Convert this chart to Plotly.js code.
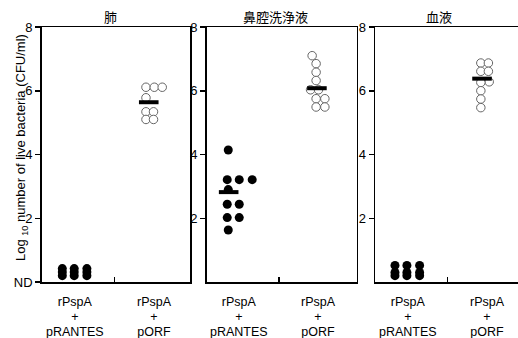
<!DOCTYPE html>
<html><head><meta charset="utf-8">
<script src="https://cdn.plot.ly/plotly-3.0.1.min.js"></script>
<style>html,body{margin:0;padding:0;overflow:hidden;background:#fff}</style>
</head><body><div id="chart"></div>
<script>
// ---- data ----
const panelTitles = ['肺', '鼻腔洗浄液', '血液'];
const categoryLines = [['rPspA', '+', 'pRANTES'], ['rPspA', '+', 'pORF']];
const yTickVals = [0, 2, 4, 6, 8];
const yTickText = ['ND', '2', '4', '6', '8'];
const yAxisTitle = 'Log <sub>10</sub> number of live bacteria (CFU/ml)';

// log10 CFU/ml per mouse (values just above 0 = ND)
const lungRantes = [0.42, 0.31, 0.2, 0.42, 0.31, 0.2, 0.42, 0.31, 0.2];
const lungOrf = [6.11, 6.11, 6.11, 5.78, 5.34, 5.34, 5.1, 5.1];
const lungOrfMean = [5.64];

const nasalRantes = [4.14, 3.21, 3.21, 3.21, 2.9, 2.44, 2.44, 2.02, 2.02, 1.63];
const nasalRantesMean = [2.82];
const nasalOrf = [7.1, 6.85, 6.58, 6.32, 6.03, 6.03, 5.75, 5.75, 5.49, 5.49];
const nasalOrfMean = [6.08];

const bloodRantes = [0.52, 0.3, 0.2, 0.52, 0.3, 0.2, 0.52, 0.3, 0.2];
const bloodOrf = [6.87, 6.87, 6.61, 6.61, 6.28, 6.26, 6.0, 5.74, 5.47];
const bloodOrfMean = [6.38];

// ---- layout helpers: horizontal jitter of each dot (category units) ----
const jitLungRantes = [-0.16, -0.16, -0.16, -0.01, -0.01, -0.01, 0.15, 0.15, 0.15];
const jitLungOrf = [-0.105, 0, 0.1, -0.105, -0.105, -0.01, -0.105, -0.01];
const jitNasalRantes = [-0.135, -0.148, 0.003, 0.166, -0.135, -0.148, 0.003, -0.148, 0.003, -0.135];
const jitNasalOrf = [-0.08, -0.03, -0.03, -0.03, -0.1, 0, -0.03, 0.08, -0.03, 0.08];
const jitBloodRantes = [-0.16, -0.16, -0.16, -0.01, -0.01, -0.01, 0.15, 0.15, 0.15];
const jitBloodOrf = [-0.08, 0.015, -0.08, 0.015, 0.025, -0.08, -0.08, -0.08, -0.08];

const W = 526, H = 338;
const mt = 26.7, mb = 56.3;
// [left px, right px, px of category 0, px per category unit]
const panelPx = [[41.7, 190, 75, 79.3], [206.7, 356.7, 239, 79.5], [375, 524, 407.7, 79.5]];

const panels = [
  {rantes: lungRantes, jr: jitLungRantes, rMean: null, jrm: 0,
   orf: lungOrf, jo: jitLungOrf, oMean: lungOrfMean, jom: -0.07},
  {rantes: nasalRantes, jr: jitNasalRantes, rMean: nasalRantesMean, jrm: -0.13,
   orf: nasalOrf, jo: jitNasalOrf, oMean: nasalOrfMean, jom: -0.02},
  {rantes: bloodRantes, jr: jitBloodRantes, rMean: null, jrm: 0,
   orf: bloodOrf, jo: jitBloodOrf, oMean: bloodOrfMean, jom: -0.065}
];

const traces = [];
const layout = {
  width: W, height: H,
  margin: {l: 0, r: 0, t: mt, b: mb, pad: 0},
  paper_bgcolor: '#fff', plot_bgcolor: '#fff',
  showlegend: false,
  font: {family: 'Liberation Sans, Arial, sans-serif', size: 13, color: '#000'},
  annotations: []
};

panels.forEach((p, i) => {
  const n = i + 1;
  const xa = n === 1 ? 'x' : 'x' + n;
  const ya = n === 1 ? 'y' : 'y' + n;
  const [lp, rp, c0, s] = panelPx[i];
  traces.push({
    type: 'scatter', mode: 'markers', xaxis: xa, yaxis: ya, cliponaxis: false,
    x: p.rantes.map((v, k) => 0 + p.jr[k]), y: p.rantes,
    marker: {symbol: 'circle', size: 9, color: '#000', line: {width: 0}}
  });
  traces.push({
    type: 'scatter', mode: 'markers', xaxis: xa, yaxis: ya, cliponaxis: false,
    x: p.orf.map((v, k) => 1 + p.jo[k]), y: p.orf,
    marker: {symbol: 'circle', size: 8.5, color: '#fff', line: {width: 1, color: '#666'}}
  });
  if (p.rMean) traces.push({
    type: 'scatter', mode: 'markers', xaxis: xa, yaxis: ya, cliponaxis: false,
    x: p.rMean.map(() => 0 + p.jrm), y: p.rMean,
    marker: {symbol: 'line-ew', size: 14, line: {width: 4, color: '#000'}}
  });
  if (p.oMean) traces.push({
    type: 'scatter', mode: 'markers', xaxis: xa, yaxis: ya, cliponaxis: false,
    x: p.oMean.map(() => 1 + p.jom), y: p.oMean,
    marker: {symbol: 'line-ew', size: 14, line: {width: 4, color: '#000'}}
  });

  const xKey = n === 1 ? 'xaxis' : 'xaxis' + n;
  const yKey = n === 1 ? 'yaxis' : 'yaxis' + n;
  layout[xKey] = {
    domain: [lp / W, rp / W], anchor: ya,
    range: [(lp - c0) / s, (rp - c0) / s],
    tickmode: 'array', tickvals: [0.5], ticks: 'inside', ticklen: 5, tickwidth: 1.5,
    tickcolor: '#000', showticklabels: false,
    showline: true, linecolor: '#000', linewidth: 1.5, mirror: true,
    showgrid: false, zeroline: false, fixedrange: true
  };
  const tv = n === 1 ? yTickVals : yTickVals.slice(1);
  const tt = n === 1 ? yTickText : yTickText.slice(1);
  layout[yKey] = {
    domain: [0, 1], anchor: xa, range: [0, 8],
    tickmode: 'array', tickvals: tv, ticktext: tt,
    ticks: 'outside', ticklen: 5, tickwidth: 1.5, tickcolor: '#000',
    tickfont: {size: 13, color: '#000'},
    showline: true, linecolor: '#000', linewidth: 1.5, mirror: true,
    showgrid: false, zeroline: false, fixedrange: true
  };
  // panel title
  const titleX = [110, 275, 438.5][i];
  layout.annotations.push({
    xref: 'paper', yref: 'paper', x: titleX / W, y: (H - mb - 16.7) / (H - mt - mb),
    text: panelTitles[i], showarrow: false, xanchor: 'center', yanchor: 'middle',
    font: {family: 'Noto Sans CJK JP, sans-serif', size: 13, color: '#000'}
  });
  // category labels (three stacked lines each)
  categoryLines.forEach((lines, c) => {
    layout.annotations.push({
      xref: xa, yref: 'paper', x: c, y: (H - mb - 293.5) / (H - mt - mb),
      text: lines.join('<br>'), showarrow: false, xanchor: 'center', yanchor: 'top',
      align: 'center', borderpad: 0,
      font: {size: 12.5, color: '#000'}
    });
  });
});

layout.annotations.push({
  xref: 'paper', yref: 'paper', x: 21.7 / W, y: (H - mb - 147) / (H - mt - mb),
  text: yAxisTitle, textangle: -90, showarrow: false, xanchor: 'center', yanchor: 'middle',
  font: {size: 13, color: '#000'}
});

Plotly.newPlot('chart', traces, layout, {staticPlot: true, displayModeBar: false}).then(() => {
  // line spacing of the stacked category labels, as in the original figure
  document.querySelectorAll('.annotation-text').forEach(t => {
    const lines = t.querySelectorAll('tspan.line');
    if (lines.length === 3) lines.forEach((ts, k) => ts.setAttribute('dy', (k * 1.2) + 'em'));
  });
});
</script>
</body></html>
